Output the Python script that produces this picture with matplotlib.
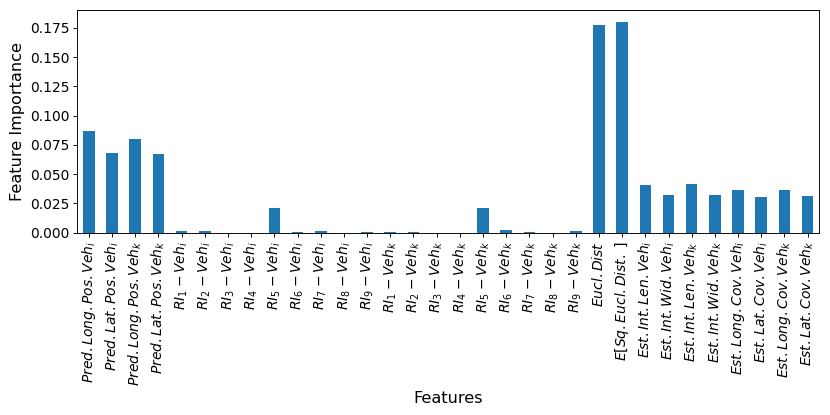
import matplotlib
matplotlib.use("Agg")
import matplotlib.pyplot as plt
import numpy as np

features = (
    [r"$Pred.Long.Pos.Veh_i$", r"$Pred.Lat.Pos.Veh_i$",
     r"$Pred.Long.Pos.Veh_k$", r"$Pred.Lat.Pos.Veh_k$"]
    + [r"$RI_%d - Veh_i$" % n for n in range(1, 10)]
    + [r"$RI_%d - Veh_k$" % n for n in range(1, 10)]
    + [r"$Eucl.Dist$", r"$E[Sq.Eucl.Dist.\ ]$",
       r"$Est.Int.Len.Veh_i$", r"$Est.Int.Wid.Veh_i$",
       r"$Est.Int.Len.Veh_k$", r"$Est.Int.Wid.Veh_k$",
       r"$Est.Long.Cov.Veh_i$", r"$Est.Lat.Cov.Veh_i$",
       r"$Est.Long.Cov.Veh_k$", r"$Est.Lat.Cov.Veh_k$"]
)

pred_values = [0.0867, 0.0680, 0.0798, 0.0675]
ri_veh_i = [0.0017, 0.0015, 0.0, 0.0, 0.0212, 0.0008, 0.0017, 0.0, 0.0010]
ri_veh_k = [0.0010, 0.0010, 0.0, 0.0, 0.0213, 0.0024, 0.0010, 0.0, 0.0017]
dist_values = [0.1775, 0.1805]
est_values = [0.0405, 0.0325, 0.0416, 0.0320, 0.0368, 0.0303, 0.0362, 0.0311]

values = pred_values + ri_veh_i + ri_veh_k + dist_values + est_values

fig = plt.figure(figsize=(10, 5), dpi=83)
ax = fig.add_axes([0.0931, 0.4393, 0.8939, 0.5367])
x = np.arange(len(values))
ax.bar(x, values, width=0.5, color="#1f77b4")
ax.set_xlim(-0.5, len(values) - 0.5)
ax.set_xticks(x)
ax.set_xticklabels(features, rotation=90, fontsize=12)
ax.tick_params(axis="y", labelsize=12)
ax.set_yticks([0, 0.025, 0.05, 0.075, 0.1, 0.125, 0.15, 0.175])
ax.set_ylim(0, 0.1904)
ax.set_ylabel("Feature Importance", fontsize=14)
ax.set_xlabel("Features", fontsize=14)
fig.savefig("out.png", dpi=83)
